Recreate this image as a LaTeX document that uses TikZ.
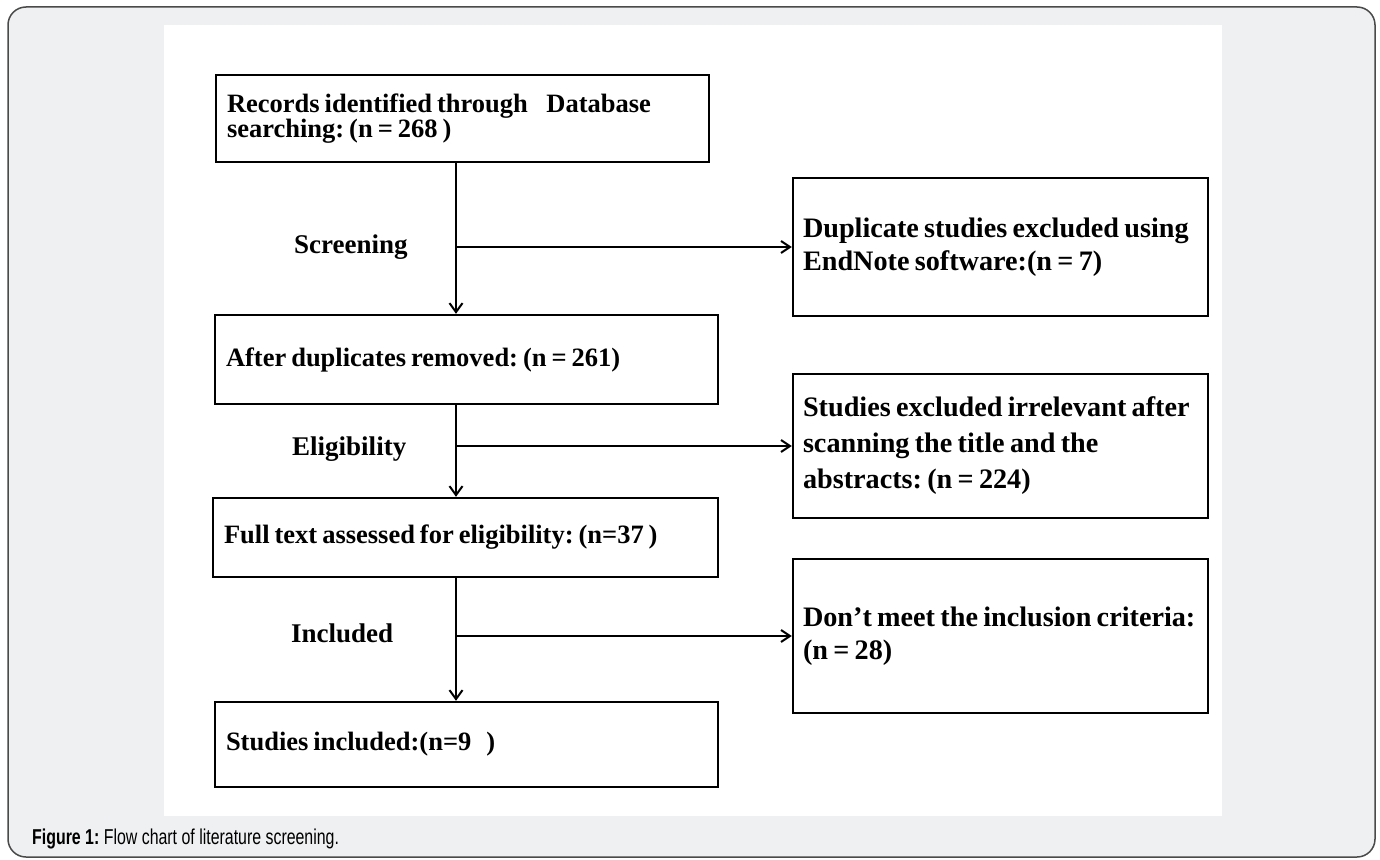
\documentclass[tikz,border=0pt]{standalone}
\usepackage{fontspec}
\usepackage{graphicx}
\setmainfont{Liberation Serif}[WordSpace=0.75]
\newfontfamily\capfont{Liberation Sans}
\usetikzlibrary{arrows.meta}
\definecolor{framebg}{HTML}{EFF0F2}
\definecolor{frameline}{HTML}{4A4A4A}
\begin{document}
\frenchspacing
\begin{tikzpicture}[x=1pt,y=-1pt,
  basebox/.style={draw=black, line width=2.4pt, fill=white, inner xsep=11pt, inner ysep=0pt, align=flush left},
  lbox/.style={basebox, font={\fontsize{26.5}{25}\selectfont\bfseries}},
  rbox/.style={basebox, inner xsep=10pt, font={\fontsize{28.2}{33}\selectfont\bfseries}},
  lab/.style={anchor=base west, inner sep=0pt, font={\fontsize{27}{27}\selectfont\bfseries}},
  conn/.style={line width=2pt, black},
  downarrow/.style={conn, -{Straight Barb[length=9pt,width=13pt,line width=2pt]}},
  sidearrow/.style={conn, -{Straight Barb[length=9pt,width=12pt,line width=2pt]}}
]
\useasboundingbox (0,0) rectangle (1380,859);
\fill[white] (0,0) rectangle (1380,859);
\draw[frameline, fill=framebg, line width=1.5pt, rounded corners=18pt] (8,7) rectangle (1375,857);
\fill[white] (164,25) rectangle (1222,816);

% left column boxes
\node[lbox, minimum width=493pt, minimum height=87pt, text width=471pt] (b1) at (462.5,118.5)
  {\mbox{Records identified through\hspace{0.7em}Database}\\\mbox{searching: (n = 268 )}};
\node[lbox, minimum width=503pt, minimum height=89pt, text width=481pt] (b3) at (466.5,359.5)
  {\mbox{After duplicates removed: (n = 261)}};
\node[lbox, minimum width=505pt, minimum height=79pt, text width=483pt] (b5) at (465.5,537.5)
  {\mbox{Full text assessed for eligibility: (n=37 )}};
\node[lbox, minimum width=503pt, minimum height=85pt, text width=481pt] (b7) at (466.5,744.5)
  {\mbox{Studies included:(n=9\ \ \ )}};

% right column boxes
\node[rbox, minimum width=415pt, minimum height=138pt, text width=395pt] (b2) at (1000.5,247)
  {\mbox{Duplicate studies excluded using}\\\mbox{EndNote software:(n = 7)}};
\node[rbox, minimum width=415pt, minimum height=144pt, text width=395pt,
      font={\fontsize{28.2}{36}\selectfont\bfseries}] (b4) at (1000.5,446)
  {\mbox{Studies excluded irrelevant after}\\\mbox{scanning the title and the}\\\mbox{abstracts: (n = 224)}};
\node[rbox, minimum width=415pt, minimum height=154pt, text width=395pt] (b6) at (1000.5,636)
  {\mbox{Don't meet the inclusion criteria:}\\\mbox{(n = 28)}};

% spine
\coordinate (spine) at (456,0);

\draw[downarrow] (b1.south -| spine) -- (b3.north -| spine);
\draw[downarrow] (b3.south -| spine) -- (b5.north -| spine);
\draw[downarrow] (b5.south -| spine) -- (b7.north -| spine);

\draw[sidearrow] (b2.west -| spine) -- (b2.west);
\draw[sidearrow] (b4.west -| spine) -- (b4.west);
\draw[sidearrow] (b6.west -| spine) -- (b6.west);

% stage labels
\node[lab] (l1) at (294,253) {Screening};
\node[lab] (l2) at (292,455) {Eligibility};
\node[lab] (l3) at (291,642) {Included};

% caption
\node[anchor=base west, inner sep=0pt, font={\capfont\fontsize{21.5}{21.5}\selectfont}] (cap) at (32,844)
  {\scalebox{0.74}[1]{\textbf{Figure 1:} Flow chart of literature screening.}};
\end{tikzpicture}
\end{document}
